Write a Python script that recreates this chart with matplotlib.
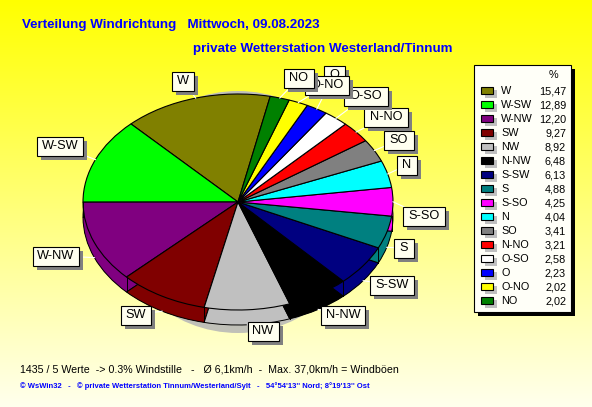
import matplotlib
matplotlib.use("Agg")
import matplotlib.pyplot as plt
from matplotlib.patches import Ellipse, Rectangle
import numpy as np

# Dane
kierunki = ["W", "W-SW", "W-NW", "SW", "NW", "N-NW", "S-SW", "S", "S-SO", "N", "SO", "N-NO", "O-SO", "O", "O-NO", "NO"]
procenty = [15.47, 12.89, 12.20, 9.27, 8.92, 6.48, 6.13, 4.88, 4.25, 4.04, 3.41, 3.21, 2.58, 2.23, 2.02, 2.02]
kolory = ["#808000", "#00ff00", "#800080", "#800000", "#c0c0c0", "#000000", "#000080", "#008080",
          "#ff00ff", "#00ffff", "#808080", "#ff0000", "#ffffff", "#0000ff", "#ffff00", "#008000"]

# Srodki etykiet (piksele)
etykiety_xy = [(183, 81), (60, 146), (56, 256), (136, 315), (263, 331), (343, 315), (392, 285), (404, 248),
               (424, 216), (407, 165), (399, 140), (386, 117), (366, 96), (334, 75), (327, 85), (299, 78)]

W, H = 592, 407
CX, CY, RX, RY = 238, 202, 155, 108
GLEBOKOSC = 15
START = 78

plt.rcParams["font.family"] = ["Liberation Sans", "DejaVu Sans"]
fig = plt.figure(figsize=(W / 100, H / 100), dpi=100)

# Tlo - gradient
tlo = fig.add_axes([0, 0, 1, 1])
gradient = np.ones((H, 1, 3))
gradient[:, 0, 2] = np.linspace(0, 0.93, H)
tlo.imshow(gradient, aspect="auto", extent=(0, W, H, 0))
tlo.axis("off")

# Kolo - osie dobrane tak, by promien 1 dawal elipse
ax = fig.add_axes([(CX - RX) / W, 1 - (CY + RY) / H, 2 * RX / W, 2 * RY / H])
ax.patch.set_alpha(0)

# Bok kola
for d in range(GLEBOKOSC, 0, -1):
    ax.pie(procenty, colors=kolory, startangle=START, counterclock=True, center=(0, -d / RY), normalize=True,
           wedgeprops={"linewidth": 0})
ax.pie(procenty, colors=kolory, startangle=START, center=(0, -GLEBOKOSC / RY), normalize=True,
       wedgeprops={"linewidth": 0.7, "edgecolor": "black"})
# Wierzch kola
ax.pie(procenty, colors=kolory, startangle=START, normalize=True,
       wedgeprops={"linewidth": 0.8, "edgecolor": "black"})

# Cien pod kolem
ax.add_patch(Ellipse((0.0, -10 / RY), 2 * 125 / RX, 2 * 121 / RY, color="#c0c0b8", lw=0, zorder=0))

# Pionowe krawedzie boku
katy = START + np.cumsum([0] + procenty) * 3.6
for k in katy:
    s = np.sin(np.radians(k))
    if s < 0:
        x = np.cos(np.radians(k))
        ax.plot([x, x], [s, s - GLEBOKOSC / RY], color="black", lw=0.7)
ax.set_aspect("auto")
ax.set_xlim(-1, 1)
ax.set_ylim(-1, 1)
ax.axis("off")
for p in ax.patches + ax.lines:
    p.set_clip_on(False)

# Warstwa z etykietami, w pikselach
nak = fig.add_axes([0, 0, 1, 1])
nak.patch.set_alpha(0)
nak.set_xlim(0, W)
nak.set_ylim(H, 0)
nak.axis("off")

# Linie od kola do etykiet
srodki = START + (np.cumsum(procenty) - np.array(procenty) / 2) * 3.6
for kat, (lx, ly) in zip(srodki, etykiety_xy):
    c, s = np.cos(np.radians(kat)), np.sin(np.radians(kat))
    px = CX + RX * c
    py = CY - RY * s + (GLEBOKOSC if s < 0 else 0)
    nak.plot([px, lx], [py, ly], color="white", lw=0.8, zorder=2)

# Etykiety kierunkow
szer_znaku = {"W": 11, "S": 8.5, "O": 10, "N": 9, "-": 4.5}
for i, (nazwa, (lx, ly)) in enumerate(zip(kierunki, etykiety_xy)):
    w = sum(szer_znaku[z] for z in nazwa) + 11
    h = 19
    z = 3 + i * 0.1
    nak.add_patch(Rectangle((lx - w / 2 + 4, ly - h / 2 + 4), w, h, fc="#808080", lw=0, zorder=z))
    nak.add_patch(Rectangle((lx - w / 2, ly - h / 2), w, h, fc="#fffff0", ec="black", lw=0.8, zorder=z))
    nak.text(lx, ly, nazwa, fontsize=9.2, ha="center", va="center", color="black", zorder=z)

# Legenda
nak.add_patch(Rectangle((478, 69), 97, 247, fc="black", lw=0, zorder=5))
nak.add_patch(Rectangle((474, 65), 97, 247, fc="#fffff8", ec="black", lw=0.8, zorder=5.1))
nak.text(553, 75, "%", fontsize=7.8, ha="center", va="center", zorder=6)
for i, (nazwa, wartosc, kolor) in enumerate(zip(kierunki, procenty, kolory)):
    y = 91 + 14 * i
    nak.add_patch(Rectangle((485, y - 1), 12, 8, fc="#c0c0c0", lw=0, zorder=5.5))
    nak.add_patch(Rectangle((481, y - 4), 12, 7, fc=kolor, ec="black", lw=0.8, zorder=5.6))
    nak.text(501, y, nazwa, fontsize=7.8, ha="left", va="center", zorder=6)
    nak.text(566, y, f"{wartosc:.2f}".replace(".", ","), fontsize=7.8, ha="right", va="center", zorder=6)

# Teksty
nak.text(22, 25, "Verteilung Windrichtung   Mittwoch, 09.08.2023", color="#0000ff", fontsize=9.6, fontweight="bold",
         ha="left", va="center")
nak.text(193, 49, "private Wetterstation Westerland/Tinnum", color="#0000ff", fontsize=9.6, fontweight="bold",
         ha="left", va="center")
nak.text(20, 369, "1435 / 5 Werte  -> 0.3% Windstille   -   Ø 6,1km/h  -  Max. 37,0km/h = Windböen", fontsize=7.7,
         ha="left", va="center")
nak.text(20, 386, "© WsWin32   -   © private Wetterstation Tinnum/Westerland/Sylt   -   54°54'13'' Nord; 8°19'13'' Ost",
         color="#0000ff", fontsize=5.5, fontweight="bold", ha="left", va="center")

fig.savefig("out.png", dpi=100)
